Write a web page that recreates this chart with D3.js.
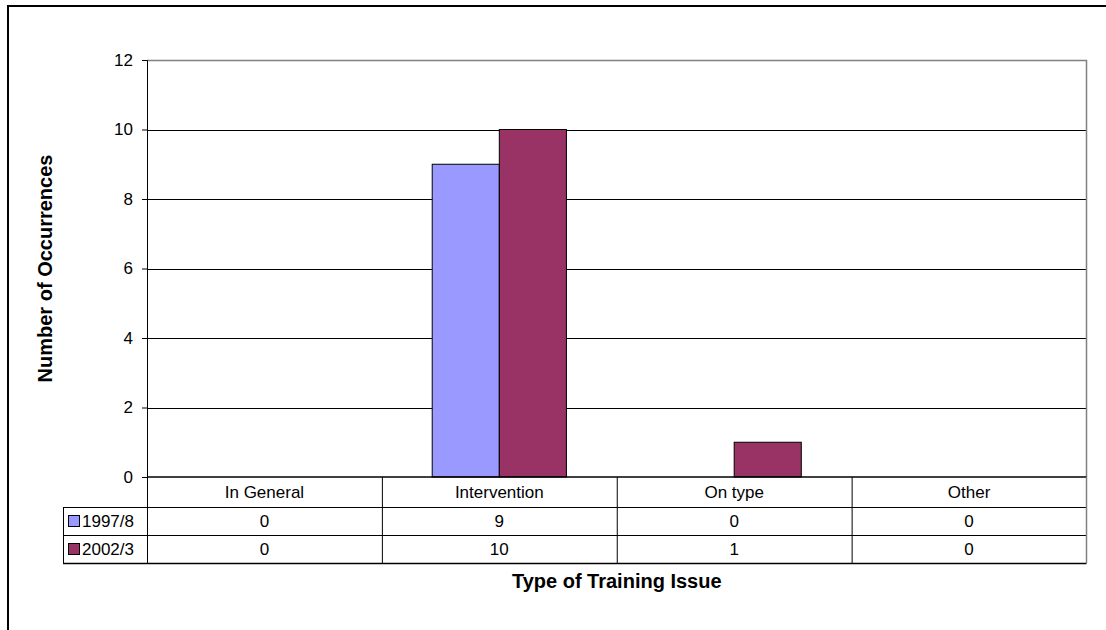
<!DOCTYPE html>
<html>
<head>
<meta charset="utf-8">
<script src="https://cdn.jsdelivr.net/npm/d3@7"></script>
<style>
  html, body { margin: 0; padding: 0; background: #fff; }
  svg { display: block; font-family: "Liberation Sans", Arial, sans-serif; }
</style>
</head>
<body>
<svg id="chart" width="1106" height="630"></svg>
<script>
const categories = ["In General", "Intervention", "On type", "Other"];
const seriesNames = ["1997/8", "2002/3"];
const values1997 = [0, 9, 0, 0];
const values2002 = [0, 10, 1, 0];
const yTicks = [0, 2, 4, 6, 8, 10, 12];
const colors = ["#9999FF", "#993366"];

const series = [
  { name: seriesNames[0], values: values1997, color: colors[0] },
  { name: seriesNames[1], values: values2002, color: colors[1] }
];

const FS = 17;      // label font size
const TFS = 20;     // title font size

const svg = d3.select("#chart");

// outer frame
svg.append("rect")
  .attr("x", 8).attr("y", 6)
  .attr("width", 1300).attr("height", 800)
  .attr("fill", "none").attr("stroke", "#000").attr("stroke-width", 2);

const plot = { left: 147, right: 1086.5, top: 60, bottom: 477 };
const rowH = [30, 28, 28];
const tableLeft = 63;

const x0 = d3.scaleBand().domain(categories).range([plot.left, plot.right]).padding(0);
const bw = x0.bandwidth();
const gap = bw / 3.5 * 1.5;
const x1 = d3.scaleBand().domain(seriesNames).range([gap / 2, bw - gap / 2]).padding(0);
const y = d3.scaleLinear().domain([0, 12]).range([plot.bottom, plot.top]);

// gridlines
svg.append("g").selectAll("line")
  .data(yTicks.filter(t => t > 0 && t < 12))
  .join("line")
  .attr("x1", plot.left).attr("x2", plot.right)
  .attr("y1", d => Math.round(y(d)) + 0.5).attr("y2", d => Math.round(y(d)) + 0.5)
  .attr("stroke", "#000").attr("stroke-width", 1);

// plot border (top, right) grey
svg.append("path")
  .attr("d", `M${plot.left},${plot.top + 0.5}H${plot.right}V${plot.bottom}`)
  .attr("fill", "none").attr("stroke", "#808080").attr("stroke-width", 1.5);

// bars
const g = svg.append("g");
series.forEach(s => {
  g.selectAll(null)
    .data(categories.map((c, i) => ({ c, v: s.values[i] })).filter(d => d.v > 0))
    .join("rect")
    .attr("x", d => x0(d.c) + x1(s.name))
    .attr("y", d => y(d.v))
    .attr("width", x1.bandwidth())
    .attr("height", d => y(0) - y(d.v))
    .attr("fill", s.color)
    .attr("stroke", "#000").attr("stroke-width", 1);
});

// y axis
const yAxis = d3.axisLeft(y).tickValues(yTicks).tickSize(5).tickPadding(9).tickFormat(d3.format("d"));
const ya = svg.append("g").attr("transform", `translate(${plot.left},0)`).call(yAxis);
ya.select(".domain").attr("stroke", "#000");
ya.selectAll(".tick line").attr("stroke", "#000");
ya.selectAll("text").attr("font-size", FS).attr("fill", "#000")
  .attr("font-family", "Liberation Sans, Arial, sans-serif");

// data table
const t = svg.append("g");
const rowY = [plot.bottom, plot.bottom + rowH[0], plot.bottom + rowH[0] + rowH[1], plot.bottom + rowH[0] + rowH[1] + rowH[2]];
t.append("line").attr("x1", plot.left).attr("x2", plot.right).attr("y1", rowY[0]).attr("y2", rowY[0]).attr("stroke", "#000").attr("stroke-width", 1.5);
[1, 2, 3].forEach(i => {
  t.append("line").attr("x1", tableLeft).attr("x2", plot.right)
    .attr("y1", rowY[i] + 0.5).attr("y2", rowY[i] + 0.5).attr("stroke", "#000").attr("stroke-width", i === 3 ? 1.5 : 1);
});
categories.forEach(c => {
  t.append("line").attr("x1", x0(c) + 0.5).attr("x2", x0(c) + 0.5)
    .attr("y1", rowY[0]).attr("y2", rowY[3]).attr("stroke", "#000").attr("stroke-width", 1);
});
t.append("line").attr("x1", plot.right).attr("x2", plot.right)
  .attr("y1", rowY[0]).attr("y2", rowY[3]).attr("stroke", "#808080").attr("stroke-width", 1.5);
t.append("line").attr("x1", tableLeft + 0.5).attr("x2", tableLeft + 0.5)
  .attr("y1", rowY[1]).attr("y2", rowY[3]).attr("stroke", "#000").attr("stroke-width", 1);

// category labels
t.selectAll(null).data(categories).join("text")
  .attr("x", d => x0(d) + bw / 2)
  .attr("y", (rowY[0] + rowY[1]) / 2)
  .attr("dy", "0.35em").attr("text-anchor", "middle").attr("font-size", FS)
  .text(d => d);

// series rows
series.forEach((s, si) => {
  const cy = (rowY[si + 1] + rowY[si + 2]) / 2;
  t.append("rect").attr("x", tableLeft + 5.5).attr("y", cy - 5.5).attr("width", 11).attr("height", 11)
    .attr("fill", s.color).attr("stroke", "#000").attr("stroke-width", 1);
  t.append("text").attr("x", tableLeft + 19).attr("y", cy).attr("dy", "0.35em")
    .attr("font-size", FS).text(s.name);
  t.selectAll(null).data(categories).join("text")
    .attr("x", d => x0(d) + bw / 2).attr("y", cy).attr("dy", "0.35em")
    .attr("text-anchor", "middle").attr("font-size", FS)
    .text((d, i) => s.values[i]);
});

// axis titles
svg.append("text").attr("x", (plot.left + plot.right) / 2).attr("y", 581).attr("dy", "0.35em")
  .attr("text-anchor", "middle").attr("font-size", TFS).attr("font-weight", "bold")
  .text("Type of Training Issue");
svg.append("text")
  .attr("transform", `translate(45,${(plot.top + plot.bottom) / 2}) rotate(-90)`)
  .attr("dy", "0.35em").attr("text-anchor", "middle").attr("font-size", TFS).attr("font-weight", "bold")
  .text("Number of Occurrences");
</script>
</body>
</html>
